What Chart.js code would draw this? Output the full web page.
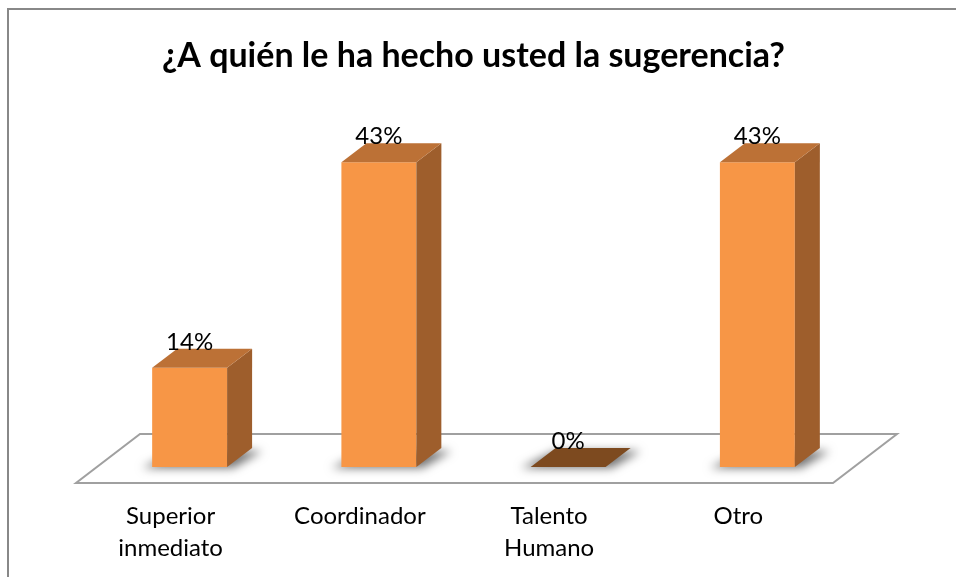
<!DOCTYPE html>
<html>
<head>
<meta charset="utf-8">
<script src="https://cdn.jsdelivr.net/npm/chart.js@4.4.1/dist/chart.umd.min.js"></script>
<style>
html,body{margin:0;padding:0;background:#fff;}
#wrap{width:956px;height:577px;position:relative;}
</style>
</head>
<body>
<div id="wrap"><canvas id="c" width="956" height="577"></canvas></div>
<script>
const titleText = "¿A quién le ha hecho usted la sugerencia?";
const categories = [["Superior", "inmediato"], "Coordinador", ["Talento", "Humano"], "Otro"];
const values = [14, 43, 0, 43];
const valueLabels = ["14%", "43%", "0%", "43%"];

const FRONT = "#F79646", TOP = "#BC7136", SIDE = "#9E5E2C", FLAT = "#7D4A1F";
const DX = 25, DY = -19;

const framePlugin = {
  id: "frame",
  beforeDraw(chart) {
    const ctx = chart.ctx;
    ctx.save();
    ctx.fillStyle = "#fff";
    ctx.fillRect(0, 0, chart.width, chart.height);
    ctx.strokeStyle = "#888888";
    ctx.lineWidth = 2;
    ctx.beginPath();
    ctx.moveTo(8, chart.height + 5);
    ctx.lineTo(8, 9);
    ctx.lineTo(chart.width + 5, 9);
    ctx.stroke();
    ctx.restore();
  }
};

const bar3d = {
  id: "bar3d",
  beforeDatasetsDraw(chart) {
    const ctx = chart.ctx, a = chart.chartArea;
    // floor
    ctx.save();
    ctx.beginPath();
    ctx.moveTo(a.left - 19, a.bottom + 16);
    ctx.lineTo(a.right - 19, a.bottom + 16);
    ctx.lineTo(a.right + 45, a.bottom - 33);
    ctx.lineTo(a.left + 45, a.bottom - 33);
    ctx.closePath();
    ctx.fillStyle = "#fff";
    ctx.fill();
    ctx.strokeStyle = "#a0a0a0";
    ctx.lineWidth = 2;
    ctx.stroke();
    ctx.restore();
    // shadows
    const meta = chart.getDatasetMeta(0);
    meta.data.forEach((b) => {
      const l = b.x - b.width / 2, r = b.x + b.width / 2;
      ctx.save();
      ctx.shadowColor = "rgba(0,0,0,0.55)";
      ctx.shadowBlur = 10;
      ctx.shadowOffsetX = 2000;
      ctx.fillStyle = "#000";
      ctx.beginPath();
      ctx.moveTo(l - 10 - 2000, b.base + 1);
      ctx.lineTo(r + 6 - 2000, b.base + 1);
      ctx.lineTo(r + DX + 10 - 2000, b.base + DY + 3);
      ctx.lineTo(l + DX - 2000, b.base + DY + 3);
      ctx.closePath();
      ctx.fill();
      ctx.restore();
    });
  },
  afterDatasetsDraw(chart) {
    const ctx = chart.ctx;
    const meta = chart.getDatasetMeta(0);
    meta.data.forEach((b, i) => {
      const l = b.x - b.width / 2, r = b.x + b.width / 2;
      const t = b.y, base = b.base;
      ctx.save();
      if (base - t > 0.5) {
        ctx.beginPath();
        ctx.moveTo(r, t);
        ctx.lineTo(r + DX, t + DY);
        ctx.lineTo(r + DX, base + DY);
        ctx.lineTo(r, base);
        ctx.closePath();
        ctx.fillStyle = SIDE;
        ctx.fill();
      }
      ctx.beginPath();
      ctx.moveTo(l, t);
      ctx.lineTo(l + DX, t + DY);
      ctx.lineTo(r + DX, t + DY);
      ctx.lineTo(r, t);
      ctx.closePath();
      ctx.fillStyle = (base - t > 0.5) ? TOP : FLAT;
      ctx.fill();
      ctx.fillStyle = "#000";
      ctx.font = "24px Lato";
      ctx.textAlign = "center";
      ctx.textBaseline = "alphabetic";
      ctx.fillText(valueLabels[i], b.x, t + DY + 1);
      ctx.restore();
    });
  }
};

new Chart(document.getElementById("c"), {
  type: "bar",
  data: {
    labels: categories,
    datasets: [{
      data: values,
      backgroundColor: FRONT,
      borderWidth: 0,
      categoryPercentage: 1,
      barPercentage: 0.396
    }]
  },
  options: {
    responsive: false,
    animation: false,
    events: [],
    layout: { padding: { left: 95, right: 104, top: 0, bottom: 0 } },
    plugins: {
      legend: { display: false },
      tooltip: { enabled: false },
      title: {
        display: true,
        text: titleText,
        color: "#000",
        font: { family: "Lato", size: 34, weight: "bold", lineHeight: 1.2 },
        padding: { top: 36, bottom: 35.7 }
      }
    },
    scales: {
      y: { display: false, min: 0, max: 50 },
      x: {
        grid: { display: false, drawTicks: false, tickLength: 0 },
        border: { display: false },
        ticks: {
          color: "#000",
          font: { family: "Lato", size: 24, lineHeight: 1.3 },
          padding: 34,
          labelOffset: -19,
          maxRotation: 0,
          autoSkip: false
        },
        afterFit(scale) { scale.height = 110; }
      }
    }
  },
  plugins: [framePlugin, bar3d]
});
</script>
</body>
</html>
